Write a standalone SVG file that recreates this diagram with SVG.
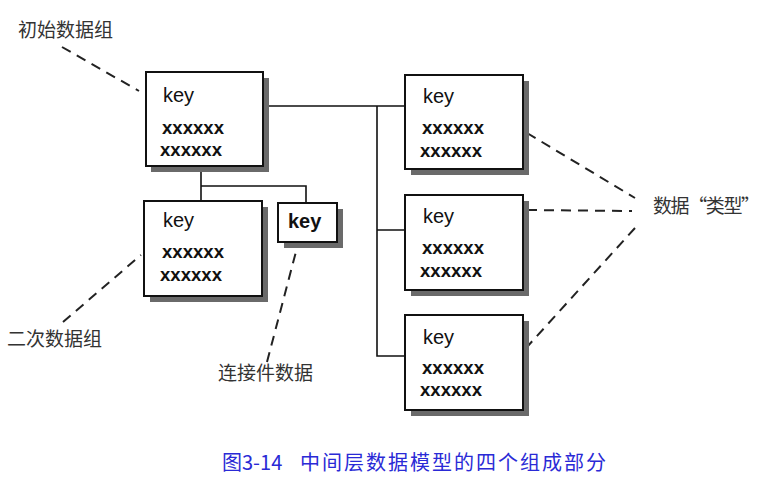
<svg xmlns="http://www.w3.org/2000/svg" width="779" height="485" viewBox="0 0 779 485">
<style>
.box{fill:#fff;stroke:#111;stroke-width:2}
.sh{fill:#6a6a6a}
.key{font-family:"Liberation Sans",Arial,sans-serif;font-size:20px;fill:#111}
.kb{font-weight:bold}
.xx{font-family:"Liberation Sans",Arial,sans-serif;font-size:19px;font-weight:bold;fill:#111}
.ln{fill:none;stroke:#111;stroke-width:1.6}
.dash{fill:none;stroke:#222;stroke-width:2;stroke-dasharray:10 7}
.lbl{font-family:"Noto Sans CJK SC",sans-serif;font-size:19px;fill:#333}
.cap{font-family:"Noto Sans CJK SC",sans-serif;font-size:20px;fill:#2a2ad6}
</style>
<g id="connectors">
<path class="ln" d="M263 106 H405 M377 106 V356 H405 M377 230 H405"/>
<path class="ln" d="M201 166 V201 M201 186 H306 V203"/>
<path class="dash" d="M62 47 L139 91"/>
<path class="dash" d="M63 322 L141 255"/>
<path class="dash" d="M267 362 L298 244"/>
<path class="dash" d="M527 133 L635 198"/>
<path class="dash" d="M527 210 L632 211"/>
<path class="dash" d="M635 228 L527 347"/>
</g>
<g id="n_initial">
<rect class="sh" x="151" y="78" width="118" height="94"/>
<rect class="box" x="146" y="72" width="117" height="94"/>
<text class="key" x="163" y="102">key</text>
<text class="xx" x="162" y="134" textLength="62" lengthAdjust="spacingAndGlyphs">xxxxxx</text>
<text class="xx" x="160" y="156" textLength="62" lengthAdjust="spacingAndGlyphs">xxxxxx</text>
</g>
<g id="n_secondary">
<rect class="sh" x="150" y="207" width="118" height="95"/>
<rect class="box" x="144" y="201" width="118" height="95"/>
<text class="key" x="163" y="227">key</text>
<text class="xx" x="162" y="258" textLength="62" lengthAdjust="spacingAndGlyphs">xxxxxx</text>
<text class="xx" x="160" y="281" textLength="62" lengthAdjust="spacingAndGlyphs">xxxxxx</text>
</g>
<g id="n_connect">
<rect class="sh" x="284" y="209" width="59" height="39"/>
<rect class="box" x="278" y="203" width="59" height="39"/>
<text class="key kb" x="288" y="228">key</text>
</g>
<g id="n_type1">
<rect class="sh" x="411" y="81" width="118" height="94"/>
<rect class="box" x="405" y="75" width="118" height="94"/>
<text class="key" x="423" y="103">key</text>
<text class="xx" x="422" y="134" textLength="62" lengthAdjust="spacingAndGlyphs">xxxxxx</text>
<text class="xx" x="420" y="157" textLength="62" lengthAdjust="spacingAndGlyphs">xxxxxx</text>
</g>
<g id="n_type2">
<rect class="sh" x="411" y="201" width="118" height="95"/>
<rect class="box" x="405" y="195" width="118" height="95"/>
<text class="key" x="423" y="223">key</text>
<text class="xx" x="422" y="254" textLength="62" lengthAdjust="spacingAndGlyphs">xxxxxx</text>
<text class="xx" x="420" y="277" textLength="62" lengthAdjust="spacingAndGlyphs">xxxxxx</text>
</g>
<g id="n_type3">
<rect class="sh" x="411" y="321" width="118" height="95"/>
<rect class="box" x="405" y="315" width="118" height="95"/>
<text class="key" x="423" y="344">key</text>
<text class="xx" x="422" y="374" textLength="62" lengthAdjust="spacingAndGlyphs">xxxxxx</text>
<text class="xx" x="420" y="396" textLength="62" lengthAdjust="spacingAndGlyphs">xxxxxx</text>
</g>
<g id="labels">
<text class="lbl" x="18" y="37">初始数据组</text>
<text class="lbl" x="7" y="346">二次数据组</text>
<text class="lbl" x="218" y="380">连接件数据</text>
<text class="lbl" x="653" y="213" textLength="107">数据“类型”</text>
</g>
<g id="caption">
<text class="cap" x="222" y="470">图3-14</text>
<text class="cap" x="300" y="470" letter-spacing="2">中间层数据模型的四个组成部分</text>
</g>
</svg>
